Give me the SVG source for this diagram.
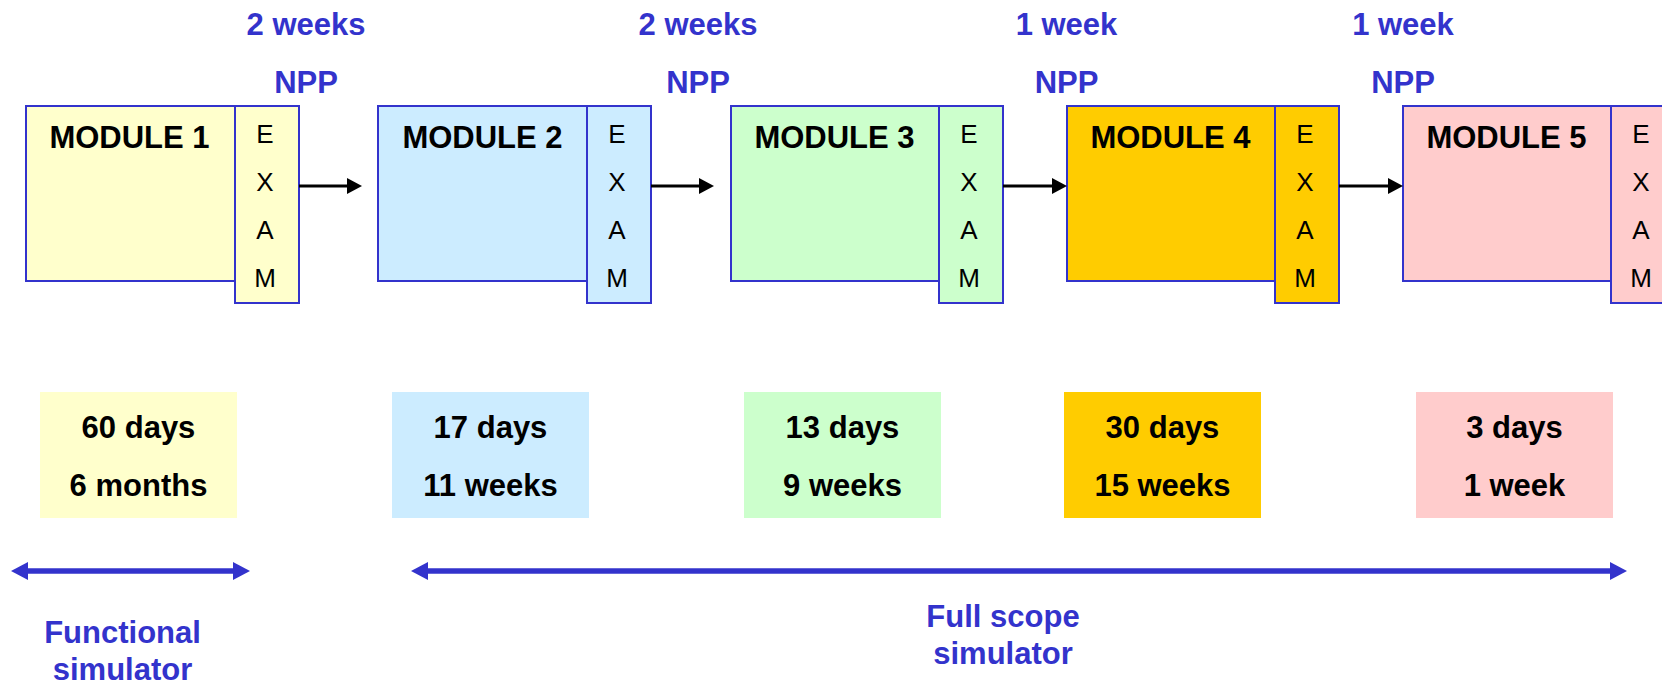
<svg xmlns="http://www.w3.org/2000/svg" width="1662" height="684" viewBox="0 0 1662 684">
<style>
.bg{fill:#ffffff}
.box{stroke:#3333CC;stroke-width:2}
.m1{fill:#FFFFCC}.m2{fill:#CCECFF}.m3{fill:#CCFFCC}.m4{fill:#FFCC00}.m5{fill:#FFCCCC}
.title{font-family:"Liberation Sans",Arial,sans-serif;font-weight:bold;font-size:31px;fill:#000;text-anchor:middle}
.exam{font-family:"Liberation Sans",Arial,sans-serif;font-size:26px;fill:#000;text-anchor:middle}
.blue{font-family:"Liberation Sans",Arial,sans-serif;font-weight:bold;font-size:31px;fill:#3333CC;text-anchor:middle}
.small{stroke:#000;stroke-width:3;fill:none}
.long{stroke:#3333CC;stroke-width:5.5;fill:none}
</style>
<defs>
<marker id="ah" markerUnits="userSpaceOnUse" markerWidth="16" markerHeight="16" viewBox="0 0 16 16" refX="0" refY="8" orient="auto"><path d="M0,0 L15,8 L0,16 z" fill="#000"/></marker>
<marker id="bh" markerUnits="userSpaceOnUse" markerWidth="18" markerHeight="18" viewBox="0 0 18 18" refX="0" refY="9" orient="auto-start-reverse"><path d="M0,0 L17,9 L0,18 z" fill="#3333CC"/></marker>
</defs>
<rect class="bg" x="0" y="0" width="1662" height="684"/>

<g id="labels-top">
<text class="blue" x="306" y="34.5">2 weeks</text>
<text class="blue" x="306" y="92.5">NPP</text>
<text class="blue" x="698" y="34.5">2 weeks</text>
<text class="blue" x="698" y="92.5">NPP</text>
<text class="blue" x="1066.5" y="34.5">1 week</text>
<text class="blue" x="1066.5" y="92.5">NPP</text>
<text class="blue" x="1403" y="34.5">1 week</text>
<text class="blue" x="1403" y="92.5">NPP</text>
</g>

<g id="module1">
<rect class="box m1" x="26" y="106" width="209" height="175"/>
<rect class="box m1" x="235" y="106" width="64" height="197"/>
<text class="title" x="129.5" y="148">MODULE 1</text>
<text class="exam" x="265" y="142.7">E</text><text class="exam" x="265" y="190.7">X</text><text class="exam" x="265" y="238.7">A</text><text class="exam" x="265" y="286.7">M</text>
</g>
<g id="module2">
<rect class="box m2" x="378" y="106" width="209" height="175"/>
<rect class="box m2" x="587" y="106" width="64" height="197"/>
<text class="title" x="482.5" y="148">MODULE 2</text>
<text class="exam" x="617" y="142.7">E</text><text class="exam" x="617" y="190.7">X</text><text class="exam" x="617" y="238.7">A</text><text class="exam" x="617" y="286.7">M</text>
</g>
<g id="module3">
<rect class="box m3" x="731" y="106" width="208" height="175"/>
<rect class="box m3" x="939" y="106" width="64" height="197"/>
<text class="title" x="834.5" y="148">MODULE 3</text>
<text class="exam" x="969" y="142.7">E</text><text class="exam" x="969" y="190.7">X</text><text class="exam" x="969" y="238.7">A</text><text class="exam" x="969" y="286.7">M</text>
</g>
<g id="module4">
<rect class="box m4" x="1067" y="106" width="208" height="175"/>
<rect class="box m4" x="1275" y="106" width="64" height="197"/>
<text class="title" x="1170.5" y="148">MODULE 4</text>
<text class="exam" x="1305" y="142.7">E</text><text class="exam" x="1305" y="190.7">X</text><text class="exam" x="1305" y="238.7">A</text><text class="exam" x="1305" y="286.7">M</text>
</g>
<g id="module5">
<rect class="box m5" x="1403" y="106" width="208" height="175"/>
<rect class="box m5" x="1611" y="106" width="64" height="197"/>
<text class="title" x="1506.5" y="148">MODULE 5</text>
<text class="exam" x="1641" y="142.7">E</text><text class="exam" x="1641" y="190.7">X</text><text class="exam" x="1641" y="238.7">A</text><text class="exam" x="1641" y="286.7">M</text>
</g>

<g id="connectors">
<line class="small" x1="299" y1="186" x2="347" y2="186" marker-end="url(#ah)"/>
<line class="small" x1="651" y1="186" x2="699" y2="186" marker-end="url(#ah)"/>
<line class="small" x1="1003" y1="186" x2="1052" y2="186" marker-end="url(#ah)"/>
<line class="small" x1="1339" y1="186" x2="1388" y2="186" marker-end="url(#ah)"/>
<line class="long" x1="28" y1="571" x2="233" y2="571" marker-start="url(#bh)" marker-end="url(#bh)"/>
<line class="long" x1="428" y1="571" x2="1610" y2="571" marker-start="url(#bh)" marker-end="url(#bh)"/>
</g>

<g id="duration1">
<rect class="m1" x="40" y="392" width="197" height="126"/>
<text class="title" x="138.5" y="438">60 days</text>
<text class="title" x="138.5" y="496">6 months</text>
</g>
<g id="duration2">
<rect class="m2" x="392" y="392" width="197" height="126"/>
<text class="title" x="490.5" y="438">17 days</text>
<text class="title" x="490.5" y="496">11 weeks</text>
</g>
<g id="duration3">
<rect class="m3" x="744" y="392" width="197" height="126"/>
<text class="title" x="842.5" y="438">13 days</text>
<text class="title" x="842.5" y="496">9 weeks</text>
</g>
<g id="duration4">
<rect class="m4" x="1064" y="392" width="197" height="126"/>
<text class="title" x="1162.5" y="438">30 days</text>
<text class="title" x="1162.5" y="496">15 weeks</text>
</g>
<g id="duration5">
<rect class="m5" x="1416" y="392" width="197" height="126"/>
<text class="title" x="1514.5" y="438">3 days</text>
<text class="title" x="1514.5" y="496">1 week</text>
</g>

<g id="label-functional">
<text class="blue" x="122.5" y="643">Functional</text>
<text class="blue" x="122.5" y="680">simulator</text>
</g>
<g id="label-fullscope">
<text class="blue" x="1003" y="627">Full scope</text>
<text class="blue" x="1003" y="664">simulator</text>
</g>
</svg>
